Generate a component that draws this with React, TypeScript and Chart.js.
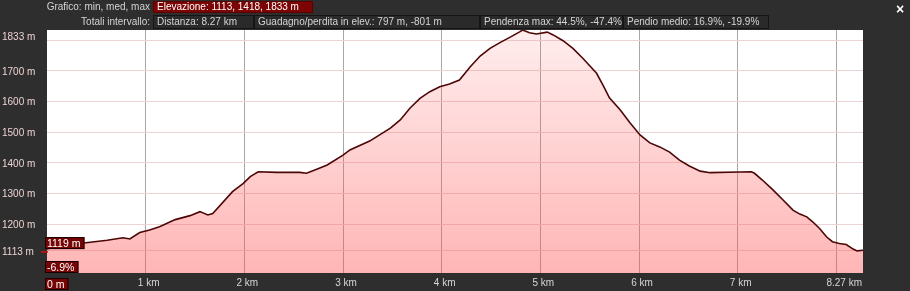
import React, { useEffect, useRef } from "react";
import { Chart, registerables } from "chart.js";

Chart.register(...registerables);

const distanceKm = [
  0, 0.13, 0.33, 0.61, 0.77, 0.84, 0.94, 1.04, 1.14, 1.3, 1.45, 1.55, 1.63, 1.68,
  1.88, 1.99, 2.06, 2.14, 2.33, 2.56, 2.63, 2.74, 2.84, 3.0, 3.07, 3.27, 3.48, 3.58,
  3.68, 3.78, 3.88, 3.98, 4.08, 4.18, 4.29, 4.39, 4.49, 4.59, 4.69, 4.79, 4.82, 4.89,
  4.96, 5.07, 5.13, 5.23, 5.33, 5.43, 5.57, 5.64, 5.7, 5.81, 5.91, 6.01, 6.11, 6.21,
  6.31, 6.41, 6.51, 6.62, 6.72, 7.02, 7.14, 7.17, 7.25, 7.36, 7.46, 7.56, 7.63, 7.7,
  7.76, 7.83, 7.9, 7.96, 8.03, 8.1, 8.17, 8.21, 8.27,
];
const elevationM = [
  1119, 1132, 1137, 1148, 1156, 1152, 1173, 1181, 1192, 1215, 1228, 1241, 1230, 1235,
  1306, 1333, 1355, 1371, 1369, 1369, 1366, 1380, 1393, 1425, 1442, 1471, 1513, 1540,
  1579, 1610, 1632, 1648, 1657, 1670, 1713, 1748, 1773, 1792, 1809, 1827, 1833, 1824,
  1820, 1826, 1817, 1798, 1773, 1741, 1692, 1650, 1612, 1572, 1530, 1491, 1465, 1452,
  1435, 1409, 1390, 1373, 1368, 1370, 1371, 1366, 1344, 1311, 1279, 1246, 1233, 1224,
  1208, 1186, 1159, 1143, 1137, 1134, 1119, 1113, 1115,
];

const yGridValues = [1113, 1200, 1300, 1400, 1500, 1600, 1700, 1800];
const yLabelValues = [1700, 1600, 1500, 1400, 1300, 1200];
const xGridValues = [1, 2, 3, 4, 5, 6, 7, 8];
const xLabelValues = [1, 2, 3, 4, 5, 6, 7];
const yMin = 1041;
const yMax = 1833;
const yLow = 1113;
const xMax = 8.27;

const headerLine1Label = "Grafico: min, med, max";
const headerLine1Value = "Elevazione: 1113, 1418, 1833 m";
const headerLine2Label = "Totali intervallo:";
const headerLine2Values = [
  "Distanza: 8.27 km",
  "Guadagno/perdita in elev.: 797 m, -801 m",
  "Pendenza max: 44.5%, -47.4%",
  "Pendio medio: 16.9%, -19.9%",
];
const startElevLabel = "1119 m";
const startSlopeLabel = "-6.9%";
const startDistLabel = "0 m";

const FONT = "'Liberation Sans', Arial, sans-serif";

const overlayPlugin = {
  id: "overlay",
  beforeDraw(chart: any) {
    const { ctx, chartArea: a } = chart;
    ctx.save();
    ctx.fillStyle = "#ffffff";
    ctx.fillRect(a.left, a.top, a.right - a.left, a.bottom - a.top);
    ctx.restore();
  },
  afterDraw(chart: any) {
    const { ctx, chartArea: a } = chart;
    const xs = chart.scales.x;
    const ys = chart.scales.y;
    ctx.save();
    ctx.font = `10px ${FONT}`;
    // y labels
    ctx.fillStyle = "#ecd2d2";
    ctx.textAlign = "left";
    ctx.textBaseline = "middle";
    ctx.fillText(`${yMax} m`, 2, a.top + 7);
    yLabelValues.forEach((v) => {
      ctx.fillText(`${v} m`, 2, ys.getPixelForValue(v) + 1);
    });
    ctx.fillText(`${yLow} m`, 2, ys.getPixelForValue(yLow) + 1);
    // x labels
    ctx.fillStyle = "#d6d6d6";
    ctx.textAlign = "center";
    const ly = a.bottom + 10;
    xLabelValues.forEach((v) => {
      ctx.fillText(`${v} km`, xs.getPixelForValue(v) + 3, ly);
    });
    ctx.textAlign = "right";
    ctx.fillText(`${xMax} km`, a.right - 1, ly);

    // red value boxes
    const box = (text: string, x: number, y: number, h: number) => {
      const w = ctx.measureText(text).width + 6;
      ctx.fillStyle = "#760404";
      ctx.fillRect(x, y, w, h);
      ctx.strokeStyle = "#1a0000";
      ctx.lineWidth = 1;
      ctx.strokeRect(x + 0.5, y + 0.5, w - 1, h - 1);
      ctx.fillStyle = "#ffffff";
      ctx.textAlign = "left";
      ctx.textBaseline = "middle";
      ctx.fillText(text, x + 2, y + h / 2 + 1);
    };
    ctx.font = `10.5px ${FONT}`;
    box(startElevLabel, a.left - 2, ys.getPixelForValue(elevationM[0]) - 12, 12);
    box(startSlopeLabel, a.left - 2, a.bottom - 12, 12);
    box(startDistLabel, a.left - 2, a.bottom + 5, 12);
    // small cursor marker
    ctx.strokeStyle = "#d01010";
    ctx.lineWidth = 1.5;
    ctx.beginPath();
    ctx.moveTo(a.left - 6, ys.getPixelForValue(yLow) + 1);
    ctx.lineTo(a.left + 1, ys.getPixelForValue(yLow) + 1);
    ctx.stroke();
    ctx.restore();
  },
};

function App() {
  const canvasRef = useRef<HTMLCanvasElement | null>(null);

  useEffect(() => {
    const canvas = canvasRef.current;
    if (!canvas) return;
    const chart = new Chart(canvas, {
      type: "line",
      data: {
        datasets: [
          {
            data: distanceKm.map((d, i) => ({ x: d, y: elevationM[i] })),
            borderColor: "#4d0606",
            borderWidth: 1.6,
            pointRadius: 0,
            tension: 0,
            fill: "start",
            backgroundColor: (c: any) => {
              const ch = c.chart;
              const area = ch.chartArea;
              if (!area) return "rgba(255,80,80,0.3)";
              const g = ch.ctx.createLinearGradient(0, area.top, 0, area.bottom);
              g.addColorStop(0, "rgba(255,80,80,0.10)");
              g.addColorStop(1, "rgba(255,80,80,0.42)");
              return g;
            },
          },
        ],
      },
      options: {
        animation: false,
        responsive: false,
        maintainAspectRatio: false,
        events: [],
        layout: { padding: { left: 47, right: 47, top: 30, bottom: 18 } },
        plugins: { legend: { display: false }, tooltip: { enabled: false } },
        scales: {
          x: {
            type: "linear",
            min: 0,
            max: xMax,
            afterBuildTicks: (s: any) => {
              s.ticks = xGridValues.map((v) => ({ value: v }));
            },
            afterFit: (s: any) => {
              s.height = 0;
            },
            ticks: { display: false },
            border: { display: false },
            grid: { drawTicks: false, color: "rgba(60,60,60,0.45)", lineWidth: 1 },
          },
          y: {
            type: "linear",
            min: yMin,
            max: yMax,
            afterBuildTicks: (s: any) => {
              s.ticks = yGridValues.map((v) => ({ value: v }));
            },
            afterFit: (s: any) => {
              s.width = 0;
            },
            ticks: { display: false },
            border: { display: false },
            grid: { drawTicks: false, color: "#ecd4d4", lineWidth: 1 },
          },
        },
      },
      plugins: [overlayPlugin],
    });
    return () => chart.destroy();
  }, []);

  const txt: React.CSSProperties = {
    position: "absolute",
    fontFamily: FONT,
    fontSize: 10,
    lineHeight: "12px",
    whiteSpace: "nowrap",
    color: "#d4d4d4",
  };
  const boxBounds = [
    [153, 254],
    [254, 480],
    [480, 623],
    [623, 769],
  ];

  return (
    <div
      style={{
        position: "fixed",
        left: 0,
        top: 0,
        width: 910,
        height: 291,
        background: "#2e2e2e",
        overflow: "hidden",
      }}
    >
      <canvas ref={canvasRef} width={910} height={291} style={{ position: "absolute", left: 0, top: 0, width: 910, height: 291 }} />
      <div style={{ ...txt, right: 760, top: 1, textAlign: "right" }}>{headerLine1Label}</div>
      <div
        style={{
          ...txt,
          left: 153,
          top: 1,
          width: 160,
          height: 12,
          boxSizing: "border-box",
          background: "#7c0404",
          border: "1px solid #5a0000",
          color: "#ffffff",
          paddingLeft: 3,
          lineHeight: "10px",
        }}
      >
        {headerLine1Value}
      </div>
      <div style={{ ...txt, right: 760, top: 16, textAlign: "right" }}>{headerLine2Label}</div>
      {headerLine2Values.map((t, i) => (
        <div
          key={i}
          style={{
            ...txt,
            left: boxBounds[i][0],
            top: 15,
            width: boxBounds[i][1] - boxBounds[i][0],
            height: 14,
            boxSizing: "border-box",
            border: "1px solid #151515",
            background: "#2a2a2a",
            paddingLeft: 3,
            lineHeight: "12px",
          }}
        >
          {t}
        </div>
      ))}
      <div style={{ ...txt, left: 896, top: 1, fontSize: 14, fontWeight: "bold", color: "#ffffff", lineHeight: "16px" }}>×</div>
    </div>
  );
}

export default App;
